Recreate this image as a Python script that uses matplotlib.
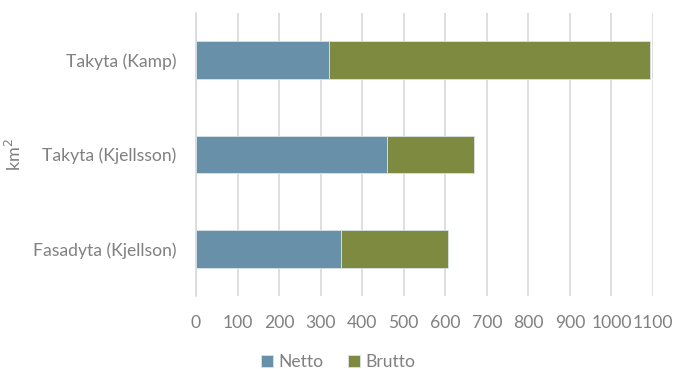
import matplotlib
matplotlib.use("Agg")
import matplotlib.pyplot as plt
import numpy as np

plt.rcParams['font.family'] = ['Lato', 'DejaVu Sans']

# data
categories = ['Fasadyta (Kjellson)', 'Takyta (Kjellsson)', 'Takyta (Kamp)']
netto = [349, 460, 319]
brutto = [257, 210, 773]   # stacked on top of netto
xticks = list(range(0, 1101, 100))

netto_color = '#6890A8'
brutto_color = '#7E8A40'
text_color = '#808080'

fig = plt.figure(figsize=(6.73, 3.69), dpi=100)
ax = fig.add_axes([196 / 673, 1 - 296 / 369, 457 / 673, 283 / 369])

y = np.arange(len(categories))
ax.barh(y, netto, height=0.4, color=netto_color, edgecolor='#D9E2E8',
        linewidth=0.6, label='Netto', zorder=3)
ax.barh(y, brutto, left=netto, height=0.4, color=brutto_color,
        edgecolor='#D9E2E8', linewidth=0.6, label='Brutto', zorder=3)

ax.set_xlim(0, 1100)
ax.set_ylim(-0.5, len(categories) - 0.5)
ax.set_xticks(xticks)
ax.set_yticks(y)
ax.set_yticklabels(categories)
ax.xaxis.grid(True, color='#D9D9D9', linewidth=1.2, zorder=0)
ax.set_axisbelow(True)
for side in ['top', 'right', 'bottom']:
    ax.spines[side].set_visible(False)
ax.spines['left'].set_color('#D9D9D9')
ax.spines['left'].set_linewidth(1.2)
ax.tick_params(axis='both', length=0, colors=text_color, labelsize=12.6)
ax.tick_params(axis='x', pad=14)
ax.tick_params(axis='y', pad=14)

fig.text(14 / 673, 1 - 155 / 369, 'km$^2$', rotation=90, color=text_color,
         fontsize=13, ha='center', va='center')

ax.legend(loc='center', bbox_to_anchor=(338 / 673, 1 - 362 / 369),
          bbox_transform=fig.transFigure, ncol=2, frameon=False,
          fontsize=12.6, labelcolor=text_color, handlelength=0.7,
          handleheight=0.7, handletextpad=0.3, columnspacing=1.4)

fig.savefig('out.png', dpi=100)
